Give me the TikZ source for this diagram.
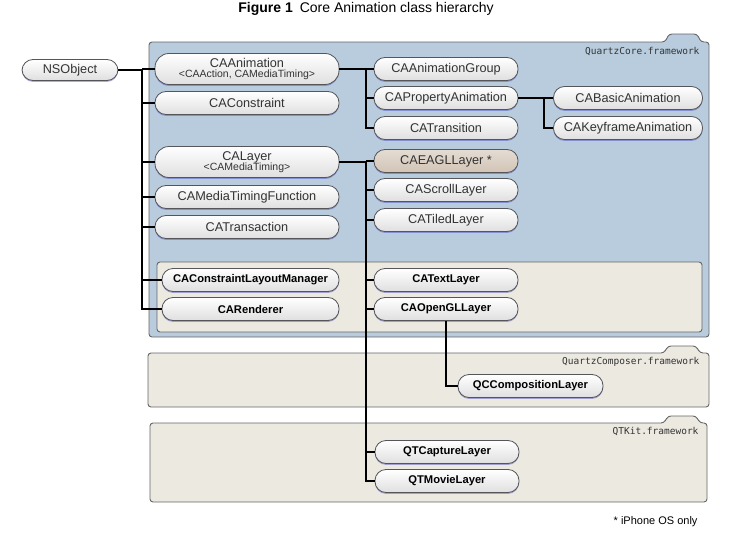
\documentclass[tikz,border=0pt]{standalone}
\usepackage{fontspec}
\setmainfont{Liberation Sans}
\newfontfamily\frameworkfont{DejaVu Sans Mono}
\usepackage{tikz}
\usetikzlibrary{shadows}

\definecolor{coreblue}{RGB}{184,204,222}
\definecolor{kitbeige}{RGB}{236,233,225}
\definecolor{eaglbrown}{RGB}{210,196,182}
\definecolor{pillline}{RGB}{85,85,90}

\tikzset{
    pill/.style={draw=pillline, line width=0.8pt, rounded corners=11pt, top color=white, bottom color=gray!25,
        minimum height=23pt, inner sep=0pt, text=black!80, font=\fontsize{12.7}{13}\selectfont,
        drop shadow={shadow xshift=0pt, shadow yshift=-1.4pt, fill=blue!45!gray, opacity=0.45}},
    boldpill/.style={pill, text=black, font=\fontsize{11.2}{12}\selectfont\bfseries},
    tallpill/.style={pill, minimum height=31pt, rounded corners=14pt, align=center},
    folder/.style={draw=black!60, line width=0.9pt, rounded corners=3pt},
    framelabel/.style={anchor=east, text=black!80, font=\frameworkfont\fontsize{9.5}{10}\selectfont},
    link/.style={draw=black, line width=1.1pt},
}

\begin{document}
\begin{tikzpicture}[x=1pt, y=-1pt]
            \useasboundingbox (0,0) rectangle (748,538);
            \node[font=\fontsize{14}{16}\selectfont] (title) at (366,9) {\textbf{Figure 1}\enspace Core Animation class hierarchy};

            \draw[folder, fill=coreblue] (149,337) -- (149,42) -- (665,42) -- (669,34) -- (697,34) -- (701,42)
               -- (709,42) -- (709,337) -- cycle;
            \draw[folder, fill=kitbeige] (157,262) rectangle (702,332);
            \draw[folder, fill=kitbeige] (148,407) -- (148,353) -- (664,353) -- (668,346) -- (696,346) -- (700,353)
               -- (709,353) -- (709,407) -- cycle;
            \draw[folder, fill=kitbeige] (150,502) -- (150,423) -- (664,423) -- (668,416) -- (696,416) -- (700,423)
               -- (707,423) -- (707,502) -- cycle;
            \node[framelabel] (corelabel) at (703,52) {QuartzCore.framework};
            \node[framelabel] (composerlabel) at (703,362) {QuartzComposer.framework};
            \node[framelabel] (qtkitlabel) at (702,432) {QTKit.framework};

            \node[pill, minimum width=96pt, minimum height=21pt] (nsobject) at (70,70) {NSObject};

            \node[tallpill, minimum width=184pt] (caanimation) at (247,69)
               {CAAnimation\\[-3pt]{\fontsize{10.5}{11}\selectfont <CAAction, CAMediaTiming>}};
            \node[pill, minimum width=184pt] (caconstraint) at (247,103) {CAConstraint};
            \node[tallpill, minimum width=184pt] (calayer) at (247,162)
               {CALayer\\[-3pt]{\fontsize{10.5}{11}\selectfont <CAMediaTiming>}};
            \node[pill, minimum width=184pt] (catimingfn) at (247,197) {CAMediaTimingFunction};
            \node[pill, minimum width=184pt] (catransaction) at (247,227) {CATransaction};
            \node[boldpill, minimum width=177pt] (calayoutmgr) at (250.5,280) {CAConstraintLayoutManager};
            \node[boldpill, minimum width=177pt] (carenderer) at (250.5,309) {CARenderer};

            \node[pill, minimum width=144pt] (caanimgroup) at (446,69) {CAAnimationGroup};
            \node[pill, minimum width=144pt] (capropanim) at (446,98) {CAPropertyAnimation};
            \node[pill, minimum width=144pt] (catransition) at (446,128) {CATransition};
            \node[pill, minimum width=144pt, top color=eaglbrown!60, bottom color=eaglbrown] (caeagl) at (446,161) {CAEAGLLayer *};
            \node[pill, minimum width=144pt] (cascroll) at (446,190) {CAScrollLayer};
            \node[pill, minimum width=144pt] (catiled) at (446,220) {CATiledLayer};
            \node[boldpill, minimum width=144pt] (catext) at (446,280) {CATextLayer};
            \node[boldpill, minimum width=144pt] (caopengl) at (446,309) {CAOpenGLLayer};

            \node[pill, minimum width=149pt] (cabasic) at (628,98) {CABasicAnimation};
            \node[pill, minimum width=149pt] (cakeyframe) at (628,128) {CAKeyframeAnimation};

            \node[boldpill, minimum width=145pt] (qccomposition) at (530.5,386) {QCCompositionLayer};
            \node[boldpill, minimum width=144pt] (qtcapture) at (447,452) {QTCaptureLayer};
            \node[boldpill, minimum width=144pt] (qtmovie) at (447,481) {QTMovieLayer};

            \coordinate (rootbus) at (142,70);
            \coordinate (animbus) at (366,69);
            \coordinate (propbus) at (544,98);
            \coordinate (layerbus) at (366,162);

            \draw[link] (nsobject.east) -- (rootbus) |- (carenderer.west);
            \foreach \child in {caanimation, caconstraint, calayer, catimingfn, catransaction, calayoutmgr}
               \draw[link] (rootbus |- \child.west) -- (\child.west);
            \draw[link] (caanimation.east) -- (animbus) |- (catransition.west);
            \foreach \child in {caanimgroup, capropanim}
               \draw[link] (animbus |- \child.west) -- (\child.west);
            \draw[link] (capropanim.east) -- (propbus) |- (cakeyframe.west);
            \draw[link] (propbus) -- (cabasic.west);
            \draw[link] (calayer.east) -- (layerbus) |- (qtmovie.west);
            \foreach \child in {caeagl, cascroll, catiled, catext, caopengl, qtcapture}
               \draw[link] (layerbus |- \child.west) -- (\child.west);
            \draw[link] (caopengl.south) |- (qccomposition.west);

            \node[anchor=east, font=\fontsize{11}{12}\selectfont] (footnote) at (701,522) {* iPhone OS only};
        \end{tikzpicture}
\end{document}
